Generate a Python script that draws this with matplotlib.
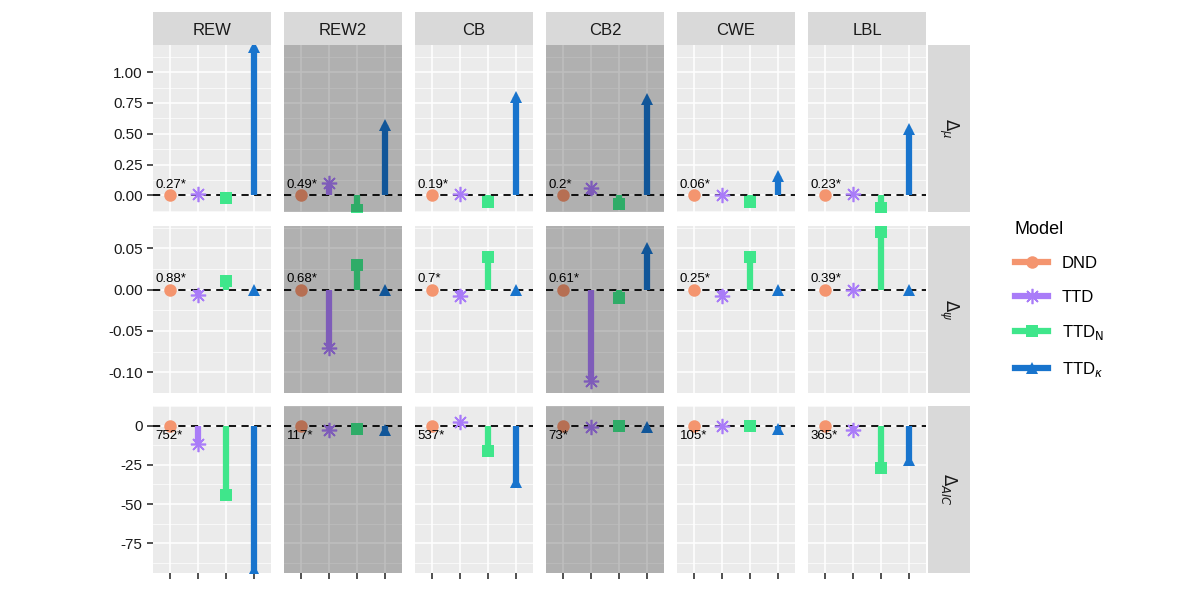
import matplotlib
matplotlib.use("Agg")
import matplotlib.pyplot as plt
from matplotlib.patches import Rectangle
from matplotlib.lines import Line2D

datasets = ["REW", "REW2", "CB", "CB2", "CWE", "LBL"]
shaded = ["REW2", "CB2"]
models = ["DND", "TTD", "TTD$_\\mathrm{N}$", "TTD$_\\kappa$"]
colors = ["#F4956F", "#A97CF8", "#3FE68B", "#1874CD"]
markers = ["o", (8, 2, 0), "s", "^"]

# values per row: [TTD, TTD_N, TTD_kappa] for each dataset (DND is the baseline, 0)
mu_vals = [[0.01, -0.02, 1.20], [0.10, -0.12, 0.57], [0.01, -0.05, 0.80],
           [0.06, -0.07, 0.78], [0.00, -0.05, 0.16], [0.01, -0.10, 0.54]]
psi_vals = [[-0.007, 0.010, 0.0], [-0.070, 0.030, 0.0], [-0.008, 0.040, 0.0],
            [-0.110, -0.010, 0.050], [-0.008, 0.040, 0.0], [0.0, 0.070, 0.0]]
aic_vals = [[-12, -44, -92], [-3, -2, -3], [2, -16, -36],
            [-1, 0, -1], [0, 0, -2], [-3, -27, -22]]
mu_lab = ["0.27*", "0.49*", "0.19*", "0.2*", "0.06*", "0.23*"]
psi_lab = ["0.88*", "0.68*", "0.7*", "0.61*", "0.25*", "0.39*"]
aic_lab = ["752*", "117*", "537*", "73*", "105*", "365*"]

rows = [
    ("$\\Delta_\\mu$", mu_vals, mu_lab, (-0.135, 1.22), [0, 0.25, 0.5, 0.75, 1.0],
     ["0.00", "0.25", "0.50", "0.75", "1.00"], True),
    ("$\\Delta_\\psi$", psi_vals, psi_lab, (-0.117, 0.077), [-0.10, -0.05, 0, 0.05],
     ["-0.10", "-0.05", "0.00", "0.05"], True),
    ("$\\Delta_{AIC}$", aic_vals, aic_lab, (-94, 7.5), [-75, -50, -25, 0],
     ["-75", "-50", "-25", "0"], False),
]

plt.rcParams["font.family"] = ["Liberation Sans", "DejaVu Sans"]
fig = plt.figure(figsize=(12, 6), dpi=100)
W, H = 1200, 600
col_x = [153, 284, 415, 546, 677, 808]
pw = 118
row_y = [45, 226, 406]
ph = 167
LW = 4.5


def msize(i):
    return 11 if i == 1 else 9


for r, (rlab, vals, labs, ylim, yt, ytl, above) in enumerate(rows):
    for c, ds in enumerate(datasets):
        ax = fig.add_axes([col_x[c] / W, 1 - (row_y[r] + ph) / H, pw / W, ph / H])
        ax.set_facecolor("#EBEBEB")
        ax.set_xlim(0.4, 4.6)
        ax.set_ylim(*ylim)
        ax.set_xticks([1, 2, 3, 4])
        ax.set_yticks(yt)
        minors = [(yt[i] + yt[i + 1]) / 2 for i in range(len(yt) - 1)]
        minors += [yt[0] - (yt[1] - yt[0]) / 2, yt[-1] + (yt[1] - yt[0]) / 2]
        ax.set_yticks(minors, minor=True)
        ax.grid(True, which="major", color="white", lw=1.1, zorder=0)
        ax.grid(True, which="minor", axis="y", color="white", lw=0.5, zorder=0)
        ax.set_axisbelow(True)
        for s in ax.spines.values():
            s.set_visible(False)
        ax.tick_params(which="minor", length=0)
        ax.tick_params(axis="x", length=4, width=1.2, color="#333333", labelbottom=False,
                       bottom=(r == 2))
        if c == 0:
            ax.set_yticklabels(ytl, fontsize=11, color="#1a1a1a")
            ax.tick_params(axis="y", length=4, width=1.2, color="#333333")
        else:
            ax.tick_params(axis="y", length=0, labelleft=False)
        ax.axhline(0, color="black", ls=(0, (4, 3)), lw=1.3, zorder=2)
        ys = [0] + vals[c]
        for i, y in enumerate(ys):
            x = i + 1
            if i > 0:
                ax.plot([x, x], [0, y], color=colors[i], lw=LW, solid_capstyle="butt", zorder=3)
            ax.plot([x], [y], marker=markers[i], color=colors[i], ms=msize(i),
                    mew=1.2 if i == 1 else 0, zorder=4)
        off = (ylim[1] - ylim[0]) * 0.065
        ax.text(0.5, off if above else -off, labs[c], fontsize=9.5, color="black",
                va="center", ha="left", zorder=5)
        if ds in shaded:
            ax.add_patch(Rectangle((0, 0), 1, 1, transform=ax.transAxes,
                                   color="black", alpha=0.25, zorder=10, lw=0))
        if r == 0:
            sx = fig.add_axes([col_x[c] / W, 1 - 45 / H, pw / W, 33 / H])
            sx.set_facecolor("#D9D9D9")
            sx.set_xticks([]); sx.set_yticks([])
            for s in sx.spines.values():
                s.set_visible(False)
            sx.text(0.5, 0.45, ds, ha="center", va="center", fontsize=12, color="#1a1a1a")
    sy = fig.add_axes([928 / W, 1 - (row_y[r] + ph) / H, 42 / W, ph / H])
    sy.set_facecolor("#D9D9D9")
    sy.set_xticks([]); sy.set_yticks([])
    for s in sy.spines.values():
        s.set_visible(False)
    sy.text(0.5, 0.5, rlab, rotation=270, ha="center", va="center", fontsize=12,
            color="#1a1a1a")

handles = [Line2D([0], [0], color=colors[i], lw=LW, marker=markers[i],
                  ms=msize(i), mew=1.2 if i == 1 else 0) for i in range(4)]
leg = fig.legend(handles, models, title="Model", loc="center left",
                 bbox_to_anchor=(1000 / W, 0.5), frameon=False, fontsize=12,
                 title_fontsize=13, handlelength=2.0, labelspacing=1.1)
leg._legend_box.align = "left"

fig.savefig("out.png", dpi=100, facecolor="white")
